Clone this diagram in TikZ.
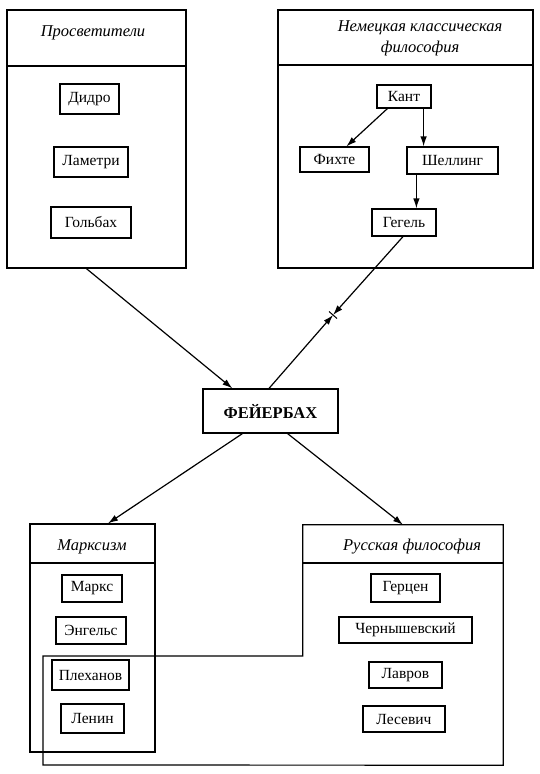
\documentclass[tikz,border=0pt]{standalone}
\usepackage{fontspec}
\setmainfont{Liberation Serif}
\usetikzlibrary{arrows.meta,calc}
\begin{document}
\begin{tikzpicture}[x=1pt,y=-1pt,
  item/.style={draw,line width=1.2pt,inner sep=0pt,font=\fontsize{15.5}{17}\selectfont},
  group/.style={draw,line width=1.2pt,inner sep=0pt},
  title/.style={inner sep=0pt,font=\fontsize{16.5}{21}\selectfont\itshape,align=center},
  conn/.style={line width=1.2pt,-{Latex[length=10pt,width=6.5pt]}},
  sep/.style={line width=1.2pt}
]
\useasboundingbox[fill=white] (0,0) rectangle (539,774);

% Просветители
\node[group,minimum width=179pt,minimum height=258pt] (pros) at (96.5,139) {};
\draw[sep] (7,66) -- (186,66);
\node[title] (prost) at (93,33) {Просветители};
\node[item,minimum width=59pt,minimum height=30pt] (didro) at (89.5,99) {Дидро};
\node[item,minimum width=74pt,minimum height=30pt] (lametri) at (91,162) {Ламетри};
\node[item,minimum width=80pt,minimum height=31pt] (golbach) at (91,222.5) {Гольбах};

% Немецкая классическая философия
\node[group,minimum width=255pt,minimum height=258pt] (germ) at (405.5,139) {};
\draw[sep] (278,65) -- (533,65);
\node[title] (germt) at (420,38) {Немецкая классическая\\философия};
\node[item,minimum width=54pt,minimum height=23pt] (kant) at (404,96.5) {Кант};
\node[item,minimum width=69pt,minimum height=25pt] (fichte) at (334.5,159.5) {Фихте};
\node[item,minimum width=91pt,minimum height=27pt] (schelling) at (452.5,160.5) {Шеллинг};
\node[item,minimum width=64pt,minimum height=27pt] (hegel) at (404,222.5) {Гегель};

\draw[conn] ([xshift=11pt]kant.south west) -- ([xshift=47pt]fichte.north west);
\draw[conn] ([xshift=-8pt]kant.south east) -- ([xshift=-8pt]kant.south east |- schelling.north);
\draw[conn] ([xshift=10pt]schelling.south west) -- ([xshift=10pt]schelling.south west |- hegel.north);

% Фейербах
\node[item,minimum width=135pt,minimum height=44pt,font=\fontsize{16.5}{18}\selectfont\bfseries] (feuer) at (270.5,411) {ФЕЙЕРБАХ};

\draw[conn] ([xshift=80pt]pros.south west) -- ([xshift=30pt]feuer.north west);

\coordinate (mid) at (333,315);
\draw[conn] ([xshift=-1pt]hegel.south) -- (mid);
\draw[conn] ([xshift=-1.5pt]feuer.north) -- (mid);
\draw[line width=1pt] ($(mid)+(-4,-3.5)$) -- ($(mid)+(4,3.5)$);

% Русская философия (L-shaped)
\node[minimum width=200pt,minimum height=240pt,inner sep=0pt] (rus) at (403,645) {};
\draw[line width=1.2pt] (rus.north west) -- (rus.north east) -- (rus.south east) -- (43,765) -- (43,656) -- (rus.west |- 0,656) -- cycle;
\draw[sep] (303,563) -- (503,563);
\node[title] (rust) at (412,547) {Русская философия};
\node[item,minimum width=69pt,minimum height=28pt] (herzen) at (405.5,588) {Герцен};
\node[item,minimum width=133pt,minimum height=26pt] (chern) at (405.5,630) {Чернышевский};
\node[item,minimum width=73pt,minimum height=26pt] (lavrov) at (405.5,675) {Лавров};
\node[item,minimum width=82pt,minimum height=26pt] (lesev) at (404,719) {Лесевич};

% Марксизм
\node[group,minimum width=125pt,minimum height=228pt] (marx) at (92.5,638) {};
\draw[sep] (30,563) -- (155,563);
\node[title] (marxt) at (92,547) {Марксизм};
\node[item,minimum width=60pt,minimum height=27pt] (marks) at (92,588.5) {Маркс};
\node[item,minimum width=70pt,minimum height=27pt] (engels) at (91,630.5) {Энгельс};
\node[item,minimum width=77pt,minimum height=30pt] (plech) at (90.5,675) {Плеханов};
\node[item,minimum width=63pt,minimum height=29pt] (lenin) at (92.5,718.5) {Ленин};

\draw[conn] ([xshift=40pt]feuer.south west) -- ([xshift=15.5pt]marx.north);
\draw[conn] ([xshift=-51pt]feuer.south east) -- (rus.north);
\end{tikzpicture}
\end{document}
